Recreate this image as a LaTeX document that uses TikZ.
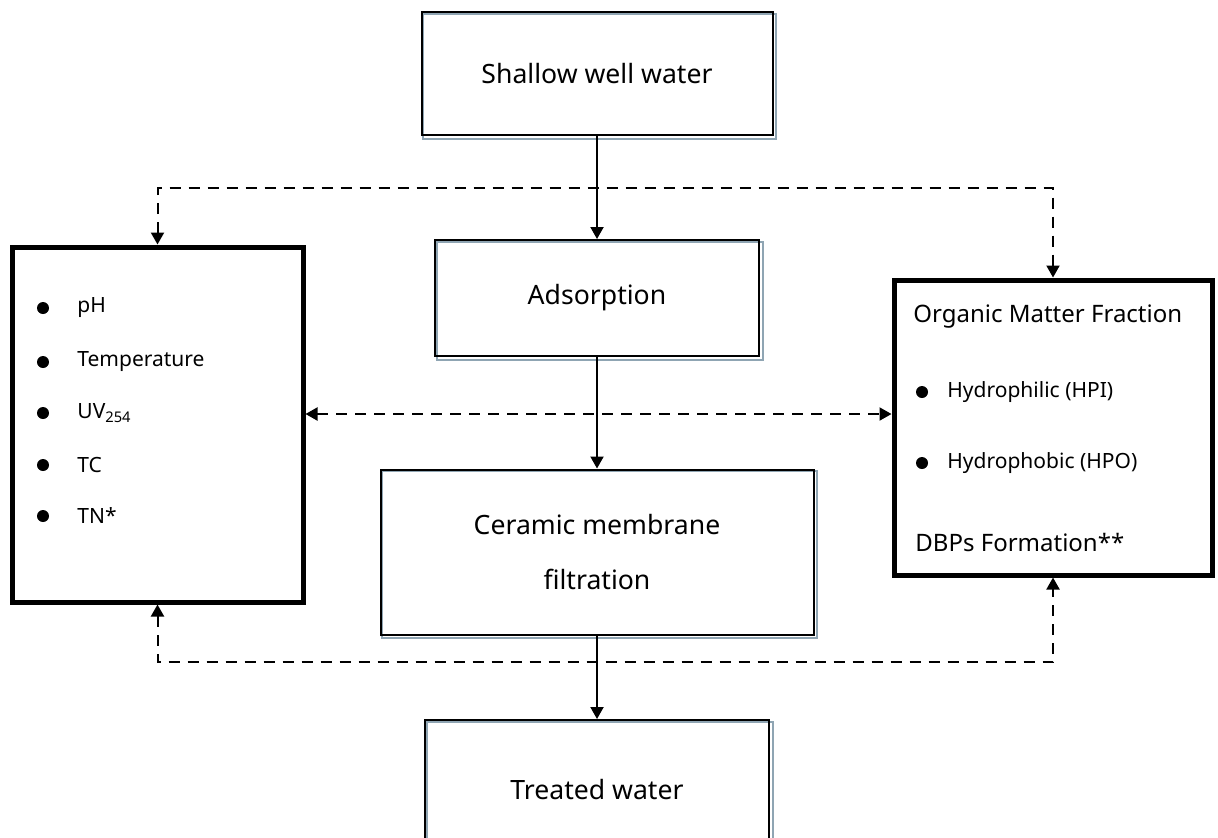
\documentclass[tikz,border=0pt]{standalone}
\usepackage{fontspec}
\setmainfont{Noto Sans}
\usetikzlibrary{arrows.meta,backgrounds}
\definecolor{shadowblue}{HTML}{8FA5B3}
\tikzset{
  flowbox/.style={draw, line width=1pt, align=center, inner sep=0pt,
    font=\fontsize{13.3}{27.5}\selectfont},
  sidebox/.style={draw, line width=2.5pt, inner sep=0pt},
  item/.style={anchor=west, inner sep=0pt, font=\fontsize{10.5}{12}\selectfont},
  head/.style={anchor=west, inner sep=0pt, font=\fontsize{12}{14}\selectfont},
  dashlink/.style={dash pattern=on 5.5pt off 4pt, line width=1pt},
}
\begin{document}
\begin{tikzpicture}[x=0.5pt, y=-0.5pt, >={Triangle[length=6pt, width=6.5pt]}]
    \useasboundingbox (0,0) rectangle (1218,837);
    \node[flowbox, minimum width=175.5pt, minimum height=61.5pt] (well) at (597,73.5) {Shallow well water};
    \node[flowbox, minimum width=162pt, minimum height=58pt] (ads) at (597,298) {Adsorption};
    \node[flowbox, minimum width=216.5pt, minimum height=82.5pt] (cer) at (597,552) {Ceramic membrane\\filtration};
    \node[flowbox, minimum width=172pt, minimum height=70pt] (out) at (597,790) {Treated water};
    \node[sidebox, minimum width=145.5pt, minimum height=177.5pt] (para) at (157.5,424.5) {};
    \node[sidebox, minimum width=159pt, minimum height=147.5pt] (frac) at (1053,427.5) {};
    \begin{scope}[on background layer]
    \foreach \n in {well,ads,cer,out}
        \draw[shadowblue, line width=1pt] ([shift={(2.5,2.5)}]\n.north west) rectangle ([shift={(2.5,2.5)}]\n.south east);
    \end{scope}
    \fill (43,308) circle(3pt) node[item] (ph) at (77,308) {pH};
    \fill (43,362) circle(3pt) node[item] (temp) at (77,362) {Temperature};
    \fill (43,413) circle(3pt) node[item] (uv) at (77,413) {UV\textsubscript{254}};
    \fill (43,465) circle(3pt) node[item] (tc) at (77,465) {TC};
    \fill (43,516) circle(3pt) node[item] (tn) at (77,516) {TN*};
    \node[head] (omf) at (913,317) {Organic Matter Fraction};
    \fill (922,392) circle(3pt) node[item] (hpi) at (947,392) {Hydrophilic (HPI)};
    \fill (922,463) circle(3pt) node[item] (hpo) at (947,463) {Hydrophobic (HPO)};
    \node[head] (dbp) at (915,542) {DBPs Formation**};
    \coordinate (toprow) at (597,188);
    \coordinate (midrow) at (597,414);
    \coordinate (botrow) at (597,662);
    \draw[->, line width=1pt] (well) -- (ads);
    \draw[->, line width=1pt] (ads) -- (cer);
    \draw[->, line width=1pt] (cer) -- (out);
    \draw[<->, dashlink] (para.north) |- (toprow) -| (frac.north);
    \draw[<->, dashlink] (para.east |- midrow) -- (frac.west |- midrow);
    \draw[<->, dashlink] (para.south) |- (botrow) -| (frac.south);
\end{tikzpicture}
\end{document}
